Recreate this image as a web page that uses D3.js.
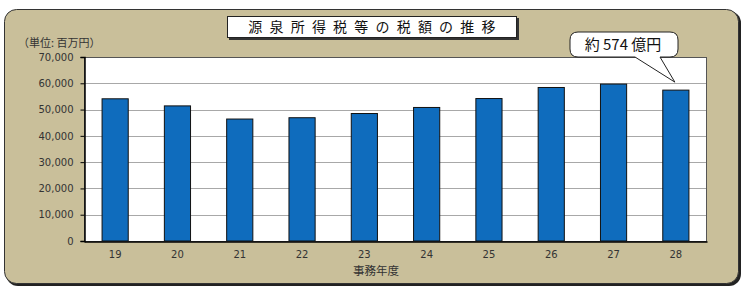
<!DOCTYPE html>
<html lang="ja">
<head>
<meta charset="UTF-8">
<title>源泉所得税等の税額の推移</title>
<script src="https://d3js.org/d3.v7.min.js"></script>
<style>
  body { margin: 0; background: #fff; }
  svg text { font-family: "DejaVu Sans", sans-serif; }
</style>
</head>
<body>
<div id="vis"></div>
<script>
// data (百万円)
var years = ["19", "20", "21", "22", "23", "24", "25", "26", "27", "28"];
var amounts = [54100, 51400, 46400, 46900, 48500, 50800, 54200, 58400, 59700, 57400];
var yTicks = [0, 10000, 20000, 30000, 40000, 50000, 60000, 70000];

var width = 747, height = 291;
var plot = { left: 84, top: 57, right: 707, bottom: 241 };

var svg = d3.select("#vis").append("svg")
    .attr("width", width)
    .attr("height", height);

// frame with shadow
svg.append("rect")
    .attr("x", 6).attr("y", 11)
    .attr("width", 735).attr("height", 275)
    .attr("rx", 12)
    .attr("fill", "#222");
svg.append("rect")
    .attr("x", 4.5).attr("y", 9.5)
    .attr("width", 734).attr("height", 274)
    .attr("rx", 12)
    .attr("fill", "#c9bf9a")
    .attr("stroke", "#333")
    .attr("stroke-width", 1);

// plot area
svg.append("rect")
    .attr("x", plot.left).attr("y", plot.top)
    .attr("width", plot.right - plot.left)
    .attr("height", plot.bottom - plot.top)
    .attr("fill", "#fff");

var x = d3.scaleBand()
    .domain(years)
    .range([plot.left, plot.right])
    .paddingInner(0.58)
    .paddingOuter(0.29);

var y = d3.scaleLinear()
    .domain([0, 70000])
    .range([plot.bottom, plot.top]);

// gridlines
svg.append("g").selectAll("line")
    .data(yTicks.slice(1))
    .enter().append("line")
    .attr("x1", plot.left).attr("x2", plot.right)
    .attr("y1", function(d) { return Math.round(y(d)) + 0.5; })
    .attr("y2", function(d) { return Math.round(y(d)) + 0.5; })
    .attr("stroke", "#a8a8a8")
    .attr("stroke-width", 1);

// bars
svg.append("g").selectAll("rect")
    .data(amounts)
    .enter().append("rect")
    .attr("x", function(d, i) { return x(years[i]); })
    .attr("y", function(d) { return y(d); })
    .attr("width", x.bandwidth())
    .attr("height", function(d) { return plot.bottom - y(d); })
    .attr("fill", "#0f6cbd")
    .attr("stroke", "#111")
    .attr("stroke-width", 1);

// plot border
svg.append("rect")
    .attr("x", plot.left + 0.5).attr("y", plot.top + 0.5)
    .attr("width", plot.right - plot.left - 1)
    .attr("height", plot.bottom - plot.top)
    .attr("fill", "none")
    .attr("stroke", "#555");

// y axis
var yAxis = d3.axisLeft(y)
    .tickValues(yTicks)
    .tickSize(4)
    .tickFormat(d3.format(","));
var gy = svg.append("g")
    .attr("transform", "translate(" + (plot.left + 0.5) + ",0)")
    .call(yAxis);
gy.select(".domain").attr("stroke", "#000").attr("stroke-width", 1.5);
gy.selectAll("text")
    .attr("font-size", 10)
    .attr("fill", "#333")
    .attr("x", -11)
    .style("font-family", "DejaVu Sans");

// x axis
var xAxis = d3.axisBottom(x).tickSize(0).tickPadding(9);
var gx = svg.append("g")
    .attr("transform", "translate(0," + (plot.bottom + 0.5) + ")")
    .call(xAxis);
gx.select(".domain").attr("stroke", "#000").attr("stroke-width", 1.5);
gx.selectAll("text")
    .attr("font-size", 10)
    .attr("fill", "#333")
    .style("font-family", "DejaVu Sans");

svg.append("text")
    .attr("x", 376).attr("y", 275)
    .attr("text-anchor", "middle")
    .attr("font-size", 11.5)
    .attr("fill", "#333")
    .style("font-family", "Noto Sans CJK JP")
    .text("事務年度");

// unit label
svg.append("text")
    .attr("x", 18).attr("y", 47)
    .attr("font-size", 11)
    .attr("fill", "#333")
    .style("font-family", "Noto Sans CJK JP")
    .text("（単位: 百万円）");

// title box
svg.append("rect")
    .attr("x", 229).attr("y", 18)
    .attr("width", 290).attr("height", 22)
    .attr("fill", "#333");
svg.append("rect")
    .attr("x", 227.5).attr("y", 16.5)
    .attr("width", 289).attr("height", 21)
    .attr("fill", "#fff")
    .attr("stroke", "#222");
svg.append("text")
    .attr("x", 375.5).attr("y", 32)
    .attr("text-anchor", "middle")
    .attr("font-size", 14)
    .attr("letter-spacing", "7.2px")
    .attr("fill", "#111")
    .style("font-family", "Noto Sans CJK JP")
    .text("源泉所得税等の税額の推移");

// callout
var last = years.length - 1;
var tipX = x(years[last]) + x.bandwidth() / 2 - 1;
var tipY = y(amounts[last]) - 8;
var bx = 570, by = 32, bw = 108, bh = 25, r = 8;
var callout = d3.path();
callout.moveTo(bx + r, by);
callout.lineTo(bx + bw - r, by);
callout.quadraticCurveTo(bx + bw, by, bx + bw, by + r);
callout.lineTo(bx + bw, by + bh - r);
callout.quadraticCurveTo(bx + bw, by + bh, bx + bw - r, by + bh);
callout.lineTo(660, by + bh);
callout.lineTo(tipX, tipY);
callout.lineTo(635, by + bh);
callout.lineTo(bx + r, by + bh);
callout.quadraticCurveTo(bx, by + bh, bx, by + bh - r);
callout.lineTo(bx, by + r);
callout.quadraticCurveTo(bx, by, bx + r, by);
callout.closePath();
svg.append("path")
    .attr("d", callout.toString())
    .attr("fill", "#fff")
    .attr("stroke", "#222")
    .attr("stroke-width", 1);
svg.append("text")
    .attr("x", 623).attr("y", 50)
    .attr("text-anchor", "middle")
    .attr("font-size", 15)
    .attr("fill", "#111")
    .style("font-family", "Noto Sans CJK JP")
    .text("約 " + Math.round(amounts[last] / 100) + " 億円");
</script>
</body>
</html>
